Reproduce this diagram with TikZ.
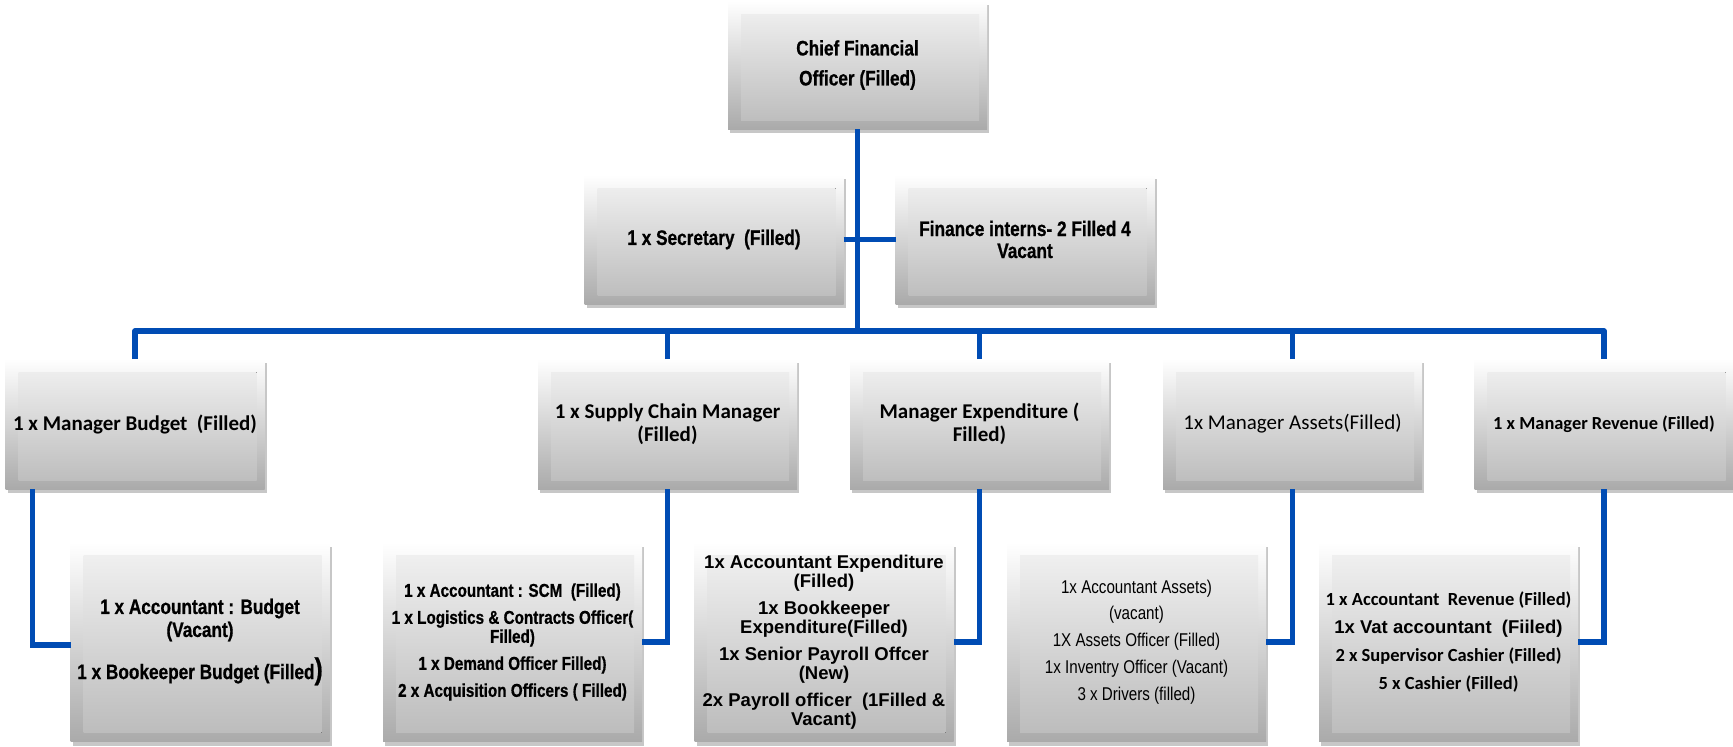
\documentclass[tikz,border=0pt]{standalone}
\usepackage{fontspec}
\newfontfamily\arial{Liberation Sans}
\newfontfamily\narrow[FakeStretch=0.82, BoldFeatures={FakeStretch=0.82, FakeBold=0.7}]{Liberation Sans}
\newfontfamily\calibri{Carlito}
\usetikzlibrary{shadows}
\definecolor{conn}{RGB}{0,76,180}
\definecolor{faceTop}{RGB}{243,243,243}
\definecolor{faceBot}{RGB}{186,186,186}
\definecolor{rimTop}{RGB}{255,255,255}
\definecolor{rimBot}{RGB}{170,170,170}
\tikzset{
  box/.style={rectangle, inner sep=0pt, outer sep=0pt, minimum width=259pt,
    top color=rimTop, bottom color=rimBot, align=center, text=black,
    drop shadow={shadow xshift=2pt, shadow yshift=-4pt, fill=black, opacity=0.22},
    path picture={\fill[top color=faceTop, bottom color=faceBot]
      ([xshift=13pt,yshift=-13pt]path picture bounding box.north west) rectangle
      ([xshift=-8pt,yshift=9pt]path picture bounding box.south east);}},
  toprow/.style={box, minimum height=128pt},
  mgr/.style={box, minimum height=130pt},
  subbox/.style={box, minimum height=199pt},
  wire/.style={draw=conn, line width=5.5pt},
  nb/.style={font=\narrow\bfseries\fontsize{21}{23}\selectfont},
  cb/.style={font=\calibri\bfseries\fontsize{21}{23}\selectfont},
}
\begin{document}
\begin{tikzpicture}[x=1pt,y=-1pt]
\useasboundingbox (0,0) rectangle (1733,747);
% top
\node[toprow, nb] (cfo) at (857.5,65) {Chief Financial\\[7pt]Officer (Filled)};
\node[toprow, nb, minimum height=129pt] (sec) at (714,239.5) {1 x Secretary\ \ (Filled)};
\node[toprow, nb, minimum height=129pt, font=\narrow\bfseries\fontsize{21}{22}\selectfont] (fin) at (1025,239.5) {Finance interns- 2 Filled 4\\Vacant};
% managers
\node[mgr, cb] (budget) at (135,424) {1 x Manager Budget\ \ (Filled)};
\node[mgr, cb] (scm) at (667.5,424) {1 x Supply Chain Manager\\(Filled)};
\node[mgr, cb] (exp) at (979.5,424) {Manager Expenditure (\\Filled)};
\node[mgr, font=\calibri\fontsize{21}{23}\selectfont] (assets) at (1292.5,424) {1x Manager Assets(Filled)};
\node[mgr, font=\calibri\bfseries\fontsize{18.4}{21}\selectfont] (rev) at (1604,424) {1 x Manager Revenue (Filled)};
% subordinates
\node[subbox, nb] (bsub) at (200,642) {1 x Accountant : Budget\\(Vacant)\\[15pt]1 x Bookeeper Budget (Filled{\fontsize{30}{30}\selectfont )}};
\node[subbox, font=\narrow\bfseries\fontsize{18.6}{19}\selectfont] (ssub) at (512.5,642) {1 x Accountant : SCM\ \ (Filled)\\[8pt]1 x Logistics \& Contracts Officer(\\Filled)\\[8pt]1 x Demand Officer Filled)\\[8pt]2 x Acquisition Officers ( Filled)};
\node[subbox, font=\arial\bfseries\fontsize{18.5}{19.5}\selectfont] (esub) at (824,642) {1x Accountant Expenditure\\(Filled)\\[7pt]1x Bookkeeper\\Expenditure(Filled)\\[7pt]1x Senior Payroll Offcer\\(New)\\[7pt]2x Payroll officer\ \ (1Filled \&\\Vacant)};
\node[subbox, font=\narrow\fontsize{18.5}{26.8}\selectfont] (asub) at (1136.5,642) {1x Accountant Assets)\\(vacant)\\1X Assets Officer (Filled)\\1x Inventry Officer (Vacant)\\3 x Drivers (filled)};
\node[subbox, font=\calibri\bfseries\fontsize{18.5}{27.8}\selectfont] (rsub) at (1448.5,642) {1 x Accountant\ \ Revenue (Filled)\\{\arial 1x Vat accountant\ \ (Fiiled)}\\2 x Supervisor Cashier (Filled)\\5 x Cashier (Filled)};
% connectors
\coordinate (busL) at (135,331);
\draw[wire] (cfo.south) -- (cfo.south |- busL);
\draw[wire] (sec.east) -- (fin.west);
\draw[wire, line join=round] (budget.north) -- (budget.north |- busL) -- (rev.north |- busL) -- (rev.north);
\foreach \n in {scm,exp,assets} \draw[wire] (\n.north) -- (\n.north |- busL);
\draw[wire] ([xshift=27pt]budget.south west) |- ([yshift=-3pt]bsub.west);
\draw[wire] (scm.south) |- (ssub.east);
\draw[wire] (exp.south) |- (esub.east);
\draw[wire] (assets.south) |- (asub.east);
\draw[wire] (rev.south) |- (rsub.east);
\end{tikzpicture}
\end{document}
